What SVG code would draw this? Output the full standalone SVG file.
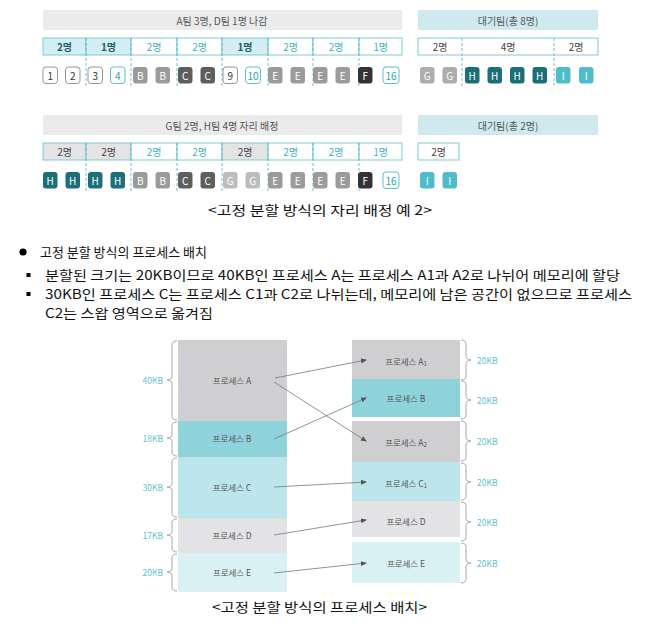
<svg xmlns="http://www.w3.org/2000/svg" width="651" height="630" viewBox="0 0 651 630">
<defs>
<style>
text{font-family:"Noto Sans CJK KR","Noto Sans",sans-serif}
.hdr{fill:#ebebeb}
.hdrT{fill:#cfe9ef}
.ht{font-size:10px;fill:#555;text-anchor:middle;dominant-baseline:central}
.cnt{fill:#fff;stroke:#7ccbd5;stroke-width:1}
.cntA{fill:#d4eef3;stroke:#7ccbd5;stroke-width:1}
.cntG{fill:#e4e4e4;stroke:#7ccbd5;stroke-width:1}
.ct{font-size:10px;fill:#3fb3c3;text-anchor:middle;dominant-baseline:central}
.ctA{font-size:10px;fill:#235f68;font-weight:bold;text-anchor:middle;dominant-baseline:central}
.ctG{font-size:10px;fill:#444;text-anchor:middle;dominant-baseline:central}
.dv{stroke:#5bbccb;stroke-width:0.9;stroke-dasharray:3 2}
.sw{fill:#fff;stroke:#8a8a8a;stroke-width:0.9}
.st{fill:#fff;stroke:#4bb8c6;stroke-width:0.9}
.sB{fill:#9b9b9b}.sC{fill:#5e5e5e}.sF{fill:#333}.sG{fill:#adadad}.sG2{fill:#bdbdbd}.sH{fill:#1c6f78}.sI{fill:#4dbdcb}
.lw{font-size:10px;fill:#333;text-anchor:middle;dominant-baseline:central}
.lt{font-size:10px;fill:#2aa5b6;text-anchor:middle;dominant-baseline:central}
.lx{font-size:10px;fill:#fff;text-anchor:middle;dominant-baseline:central}
.body{font-size:13px;fill:#111}
.pa{fill:#cfcfd1}.pb{fill:#8fd3da}.pc{fill:#bde6ec}.pd{fill:#e3e3e5}.pe{fill:#daf1f4}
.pl{font-size:8.5px;fill:#555;text-anchor:middle;dominant-baseline:central}
.kb{font-size:8.5px;fill:#5fbfcd;dominant-baseline:central}
.br{fill:none;stroke:#a8a8a8;stroke-width:1}
.conn{stroke:#777;stroke-width:0.8;fill:none;marker-end:url(#ah)}
</style>
<marker id="ah" markerWidth="6" markerHeight="6" refX="5" refY="3" orient="auto" markerUnits="userSpaceOnUse">
<path d="M0,0.5 L6,3 L0,5.5 Z" fill="#555"/>
</marker>
</defs>
<rect width="651" height="630" fill="#fff"/>

<!-- Section 1 -->
<g id="sec1-header">
<rect class="hdr" x="43" y="10" width="359" height="20"/>
<text class="ht" x="222" y="20">A팀 3명, D팀 1명 나감</text>
<rect class="hdrT" x="418" y="10" width="180" height="20"/>
<text class="ht" x="508" y="20">대기팀(총 8명)</text>
</g>
<g id="sec1-counts">
<rect class="cntA" x="43" y="38" width="43" height="17"/><text class="ctA" x="64.5" y="46.5">2명</text>
<rect class="cntA" x="86" y="38" width="45" height="17"/><text class="ctA" x="108.5" y="46.5">1명</text>
<rect class="cnt" x="131" y="38" width="46" height="17"/><text class="ct" x="154" y="46.5">2명</text>
<rect class="cnt" x="177" y="38" width="45" height="17"/><text class="ct" x="199.5" y="46.5">2명</text>
<rect class="cntA" x="222" y="38" width="46" height="17"/><text class="ctA" x="245" y="46.5">1명</text>
<rect class="cnt" x="268" y="38" width="45" height="17"/><text class="ct" x="290.5" y="46.5">2명</text>
<rect class="cnt" x="313" y="38" width="46" height="17"/><text class="ct" x="336" y="46.5">2명</text>
<rect class="cnt" x="359" y="38" width="43" height="17"/><text class="ct" x="380.5" y="46.5">1명</text>
<rect class="cnt" x="418" y="38" width="180" height="17"/>
<text class="ctG" x="440" y="46.5">2명</text>
<text class="ctG" x="508" y="46.5">4명</text>
<text class="ctG" x="576" y="46.5">2명</text>
<g class="dv">
<line x1="86" y1="38" x2="86" y2="88"/><line x1="131" y1="38" x2="131" y2="88"/><line x1="177" y1="38" x2="177" y2="88"/><line x1="222" y1="38" x2="222" y2="88"/><line x1="268" y1="38" x2="268" y2="88"/><line x1="313" y1="38" x2="313" y2="88"/><line x1="359" y1="38" x2="359" y2="88"/>
<line x1="462" y1="38" x2="462" y2="88"/><line x1="554" y1="38" x2="554" y2="88"/>
</g>
</g>
<g id="sec1-seats">
<rect class="sw" x="43" y="67" width="14.5" height="16.5" rx="3"/><text class="lw" x="50.2" y="75.3">1</text>
<rect class="sw" x="65.5" y="67" width="14.5" height="16.5" rx="3"/><text class="lw" x="72.7" y="75.3">2</text>
<rect class="sw" x="88" y="67" width="14.5" height="16.5" rx="3"/><text class="lw" x="95.2" y="75.3">3</text>
<rect class="st" x="110.5" y="67" width="14.5" height="16.5" rx="3"/><text class="lt" x="117.7" y="75.3">4</text>
<rect class="sB" x="133" y="67" width="14.5" height="16.5" rx="3"/><text class="lx" x="140.2" y="75.3">B</text>
<rect class="sB" x="155.5" y="67" width="14.5" height="16.5" rx="3"/><text class="lx" x="162.7" y="75.3">B</text>
<rect class="sC" x="178" y="67" width="14.5" height="16.5" rx="3"/><text class="lx" x="185.2" y="75.3">C</text>
<rect class="sC" x="200.5" y="67" width="14.5" height="16.5" rx="3"/><text class="lx" x="207.7" y="75.3">C</text>
<rect class="sw" x="223" y="67" width="14.5" height="16.5" rx="3"/><text class="lw" x="230.2" y="75.3">9</text>
<rect class="st" x="245.5" y="67" width="15" height="16.5" rx="3"/><text class="lt" x="253" y="75.3">10</text>
<rect class="sB" x="268" y="67" width="14.5" height="16.5" rx="3"/><text class="lx" x="275.2" y="75.3">E</text>
<rect class="sB" x="290.5" y="67" width="14.5" height="16.5" rx="3"/><text class="lx" x="297.7" y="75.3">E</text>
<rect class="sB" x="313" y="67" width="14.5" height="16.5" rx="3"/><text class="lx" x="320.2" y="75.3">E</text>
<rect class="sB" x="335.5" y="67" width="14.5" height="16.5" rx="3"/><text class="lx" x="342.7" y="75.3">E</text>
<rect class="sF" x="358" y="67" width="14.5" height="16.5" rx="3"/><text class="lx" x="365.2" y="75.3">F</text>
<rect class="st" x="383" y="67" width="16" height="16.5" rx="3"/><text class="lt" x="391" y="75.3">16</text>
<rect class="sG" x="420" y="67" width="14.5" height="16.5" rx="3"/><text class="lx" x="427.2" y="75.3">G</text>
<rect class="sG" x="442.5" y="67" width="14.5" height="16.5" rx="3"/><text class="lx" x="449.7" y="75.3">G</text>
<rect class="sH" x="465" y="67" width="14.5" height="16.5" rx="3"/><text class="lx" x="472.2" y="75.3">H</text>
<rect class="sH" x="487.5" y="67" width="14.5" height="16.5" rx="3"/><text class="lx" x="494.7" y="75.3">H</text>
<rect class="sH" x="510" y="67" width="14.5" height="16.5" rx="3"/><text class="lx" x="517.2" y="75.3">H</text>
<rect class="sH" x="532.5" y="67" width="14.5" height="16.5" rx="3"/><text class="lx" x="539.7" y="75.3">H</text>
<rect class="sI" x="556" y="67" width="14.5" height="16.5" rx="3"/><text class="lx" x="563.2" y="75.3">I</text>
<rect class="sI" x="579" y="67" width="14.5" height="16.5" rx="3"/><text class="lx" x="586.2" y="75.3">I</text>
</g>

<!-- Section 2 -->
<g id="sec2-header">
<rect class="hdr" x="43" y="115" width="359" height="20"/>
<text class="ht" x="222" y="125">G팀 2명, H팀 4명 자리 배정</text>
<rect class="hdrT" x="418" y="115" width="180" height="20"/>
<text class="ht" x="508" y="125">대기팀(총 2명)</text>
</g>
<g id="sec2-counts">
<rect class="cntG" x="43" y="143" width="43" height="17"/><text class="ctG" x="64.5" y="151.5">2명</text>
<rect class="cntG" x="86" y="143" width="45" height="17"/><text class="ctG" x="108.5" y="151.5">2명</text>
<rect class="cnt" x="131" y="143" width="46" height="17"/><text class="ct" x="154" y="151.5">2명</text>
<rect class="cnt" x="177" y="143" width="45" height="17"/><text class="ct" x="199.5" y="151.5">2명</text>
<rect class="cntG" x="222" y="143" width="46" height="17"/><text class="ctG" x="245" y="151.5">2명</text>
<rect class="cnt" x="268" y="143" width="45" height="17"/><text class="ct" x="290.5" y="151.5">2명</text>
<rect class="cnt" x="313" y="143" width="46" height="17"/><text class="ct" x="336" y="151.5">2명</text>
<rect class="cnt" x="359" y="143" width="43" height="17"/><text class="ct" x="380.5" y="151.5">1명</text>
<rect class="cnt" x="418" y="143" width="41" height="17"/><text class="ctG" x="438.5" y="151.5">2명</text>
<g class="dv">
<line x1="86" y1="143" x2="86" y2="193"/><line x1="131" y1="143" x2="131" y2="193"/><line x1="177" y1="143" x2="177" y2="193"/><line x1="222" y1="143" x2="222" y2="193"/><line x1="268" y1="143" x2="268" y2="193"/><line x1="313" y1="143" x2="313" y2="193"/><line x1="359" y1="143" x2="359" y2="193"/>
</g>
</g>
<g id="sec2-seats">
<rect class="sH" x="43" y="172" width="14.5" height="16.5" rx="3"/><text class="lx" x="50.2" y="180.3">H</text>
<rect class="sH" x="65.5" y="172" width="14.5" height="16.5" rx="3"/><text class="lx" x="72.7" y="180.3">H</text>
<rect class="sH" x="88" y="172" width="14.5" height="16.5" rx="3"/><text class="lx" x="95.2" y="180.3">H</text>
<rect class="sH" x="110.5" y="172" width="14.5" height="16.5" rx="3"/><text class="lx" x="117.7" y="180.3">H</text>
<rect class="sB" x="133" y="172" width="14.5" height="16.5" rx="3"/><text class="lx" x="140.2" y="180.3">B</text>
<rect class="sB" x="155.5" y="172" width="14.5" height="16.5" rx="3"/><text class="lx" x="162.7" y="180.3">B</text>
<rect class="sC" x="178" y="172" width="14.5" height="16.5" rx="3"/><text class="lx" x="185.2" y="180.3">C</text>
<rect class="sC" x="200.5" y="172" width="14.5" height="16.5" rx="3"/><text class="lx" x="207.7" y="180.3">C</text>
<rect class="sG2" x="223" y="172" width="14.5" height="16.5" rx="3"/><text class="lx" x="230.2" y="180.3">G</text>
<rect class="sG2" x="245.5" y="172" width="14.5" height="16.5" rx="3"/><text class="lx" x="252.7" y="180.3">G</text>
<rect class="sB" x="268" y="172" width="14.5" height="16.5" rx="3"/><text class="lx" x="275.2" y="180.3">E</text>
<rect class="sB" x="290.5" y="172" width="14.5" height="16.5" rx="3"/><text class="lx" x="297.7" y="180.3">E</text>
<rect class="sB" x="313" y="172" width="14.5" height="16.5" rx="3"/><text class="lx" x="320.2" y="180.3">E</text>
<rect class="sB" x="335.5" y="172" width="14.5" height="16.5" rx="3"/><text class="lx" x="342.7" y="180.3">E</text>
<rect class="sF" x="358" y="172" width="14.5" height="16.5" rx="3"/><text class="lx" x="365.2" y="180.3">F</text>
<rect class="st" x="383" y="172" width="16" height="16.5" rx="3"/><text class="lt" x="391" y="180.3">16</text>
<rect class="sI" x="420" y="172" width="14.5" height="16.5" rx="3"/><text class="lx" x="427.2" y="180.3">I</text>
<rect class="sI" x="442.5" y="172" width="14.5" height="16.5" rx="3"/><text class="lx" x="449.7" y="180.3">I</text>
</g>

<g id="caption1">
<text class="body" x="208" y="215" textLength="224" lengthAdjust="spacingAndGlyphs">&lt;고정 분할 방식의 자리 배정 예 2&gt;</text>
</g>

<g id="bullets">
<circle cx="23" cy="252" r="3.6" fill="#000"/>
<text class="body" x="40" y="256.5" textLength="167" lengthAdjust="spacingAndGlyphs">고정 분할 방식의 프로세스 배치</text>
<rect x="26.5" y="273" width="4" height="4" fill="#000"/>
<text class="body" x="45" y="279.5" textLength="575" lengthAdjust="spacingAndGlyphs">분할된 크기는 20KB이므로 40KB인 프로세스 A는 프로세스 A1과 A2로 나뉘어 메모리에 할당</text>
<rect x="26.5" y="292" width="4" height="4" fill="#000"/>
<text class="body" x="45" y="298.5" textLength="587" lengthAdjust="spacingAndGlyphs">30KB인 프로세스 C는 프로세스 C1과 C2로 나뉘는데, 메모리에 남은 공간이 없으므로 프로세스</text>
<text class="body" x="45" y="317.5" textLength="168" lengthAdjust="spacingAndGlyphs">C2는 스왑 영역으로 옮겨짐</text>
</g>

<!-- Bottom diagram: left column -->
<g id="procA"><rect class="pa" x="178" y="340" width="109" height="81"/><text class="pl" x="232" y="380">프로세스 A</text></g>
<g id="procB"><rect class="pb" x="178" y="421" width="109" height="36"/><text class="pl" x="232" y="438">프로세스 B</text></g>
<g id="procC"><rect class="pc" x="178" y="457" width="109" height="61"/><text class="pl" x="232" y="487">프로세스 C</text></g>
<g id="procD"><rect class="pd" x="178" y="518" width="109" height="35"/><text class="pl" x="232" y="535">프로세스 D</text></g>
<g id="procE"><rect class="pe" x="178" y="553" width="109" height="39"/><text class="pl" x="232" y="572">프로세스 E</text></g>

<g id="left-braces">
<path class="br" d="M177,341 Q172,341 172,345 L172,376 Q172,380 167,380 Q172,380 172,384 L172,416 Q172,420 177,420"/>
<path class="br" d="M177,422 Q172,422 172,426 L172,434 Q172,438 167,438 Q172,438 172,442 L172,452 Q172,456 177,456"/>
<path class="br" d="M177,458 Q172,458 172,462 L172,483 Q172,487 167,487 Q172,487 172,491 L172,513 Q172,517 177,517"/>
<path class="br" d="M177,519 Q172,519 172,523 L172,531 Q172,535 167,535 Q172,535 172,539 L172,548 Q172,552 177,552"/>
<path class="br" d="M177,554 Q172,554 172,558 L172,568 Q172,572 167,572 Q172,572 172,576 L172,587 Q172,591 177,591"/>
<text class="kb" x="163" y="380" text-anchor="end">40KB</text>
<text class="kb" x="163" y="438" text-anchor="end">18KB</text>
<text class="kb" x="163" y="487" text-anchor="end">30KB</text>
<text class="kb" x="163" y="535" text-anchor="end">17KB</text>
<text class="kb" x="163" y="572" text-anchor="end">20KB</text>
</g>

<!-- right column -->
<g id="memA1"><rect class="pa" x="352" y="340" width="108" height="39"/><text class="pl" x="406" y="361">프로세스 A<tspan font-size="6" dy="2">1</tspan></text></g>
<g id="memB"><rect class="pb" x="352" y="379" width="108" height="38"/><text class="pl" x="406" y="398">프로세스 B</text></g>
<g id="memA2"><rect class="pa" x="352" y="421" width="108" height="41"/><text class="pl" x="406" y="442">프로세스 A<tspan font-size="6" dy="2">2</tspan></text></g>
<g id="memC1"><rect class="pc" x="352" y="462" width="108" height="39"/><text class="pl" x="406" y="483">프로세스 C<tspan font-size="6" dy="2">1</tspan></text></g>
<g id="memD"><rect class="pd" x="352" y="501" width="108" height="36"/><text class="pl" x="406" y="521">프로세스 D</text></g>
<g id="memE"><rect class="pe" x="352" y="542" width="108" height="41"/><text class="pl" x="406" y="563">프로세스 E</text></g>

<g id="right-braces">
<path class="br" d="M461,340 Q466,340 466,344 L466,356 Q466,360 471,360 Q466,360 466,364 L466,376 Q466,380 461,380"/>
<path class="br" d="M461,381 Q466,381 466,385 L466,396 Q466,400 471,400 Q466,400 466,404 L466,415 Q466,419 461,419"/>
<path class="br" d="M461,421 Q466,421 466,425 L466,437 Q466,441 471,441 Q466,441 466,445 L466,457 Q466,461 461,461"/>
<path class="br" d="M461,463 Q466,463 466,467 L466,478 Q466,482 471,482 Q466,482 466,486 L466,496 Q466,500 461,500"/>
<path class="br" d="M461,502 Q466,502 466,506 L466,518 Q466,522 471,522 Q466,522 466,526 L466,537 Q466,541 461,541"/>
<path class="br" d="M461,543 Q466,543 466,547 L466,559 Q466,563 471,563 Q466,563 466,567 L466,579 Q466,583 461,583"/>
<text class="kb" x="477" y="360">20KB</text>
<text class="kb" x="477" y="400">20KB</text>
<text class="kb" x="477" y="441">20KB</text>
<text class="kb" x="477" y="482">20KB</text>
<text class="kb" x="477" y="522">20KB</text>
<text class="kb" x="477" y="563">20KB</text>
</g>

<g id="connectors">
<line class="conn" x1="275" y1="378" x2="366" y2="360"/>
<line class="conn" x1="274" y1="382" x2="366" y2="441"/>
<line class="conn" x1="274" y1="439" x2="366" y2="398"/>
<line class="conn" x1="274" y1="487" x2="366" y2="482"/>
<line class="conn" x1="274" y1="535" x2="366" y2="520"/>
<line class="conn" x1="274" y1="573" x2="366" y2="563"/>
</g>

<g id="caption2">
<text class="body" x="212" y="611.5" textLength="215" lengthAdjust="spacingAndGlyphs">&lt;고정 분할 방식의 프로세스 배치&gt;</text>
</g>
</svg>
